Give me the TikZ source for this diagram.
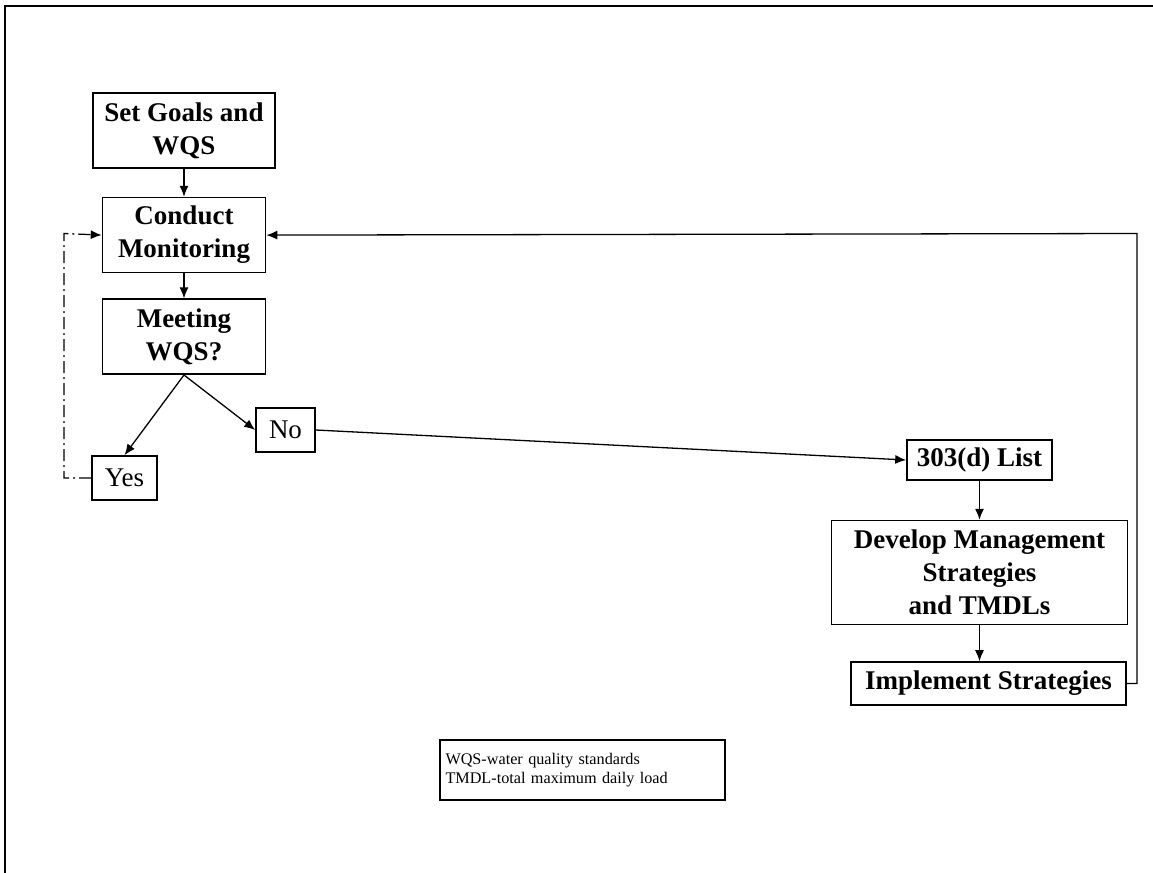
\documentclass[tikz,border=0pt]{standalone}
\usepackage{fontspec}
\setmainfont{Liberation Serif}
\usetikzlibrary{positioning,arrows.meta}

\begin{document}
\begin{tikzpicture}[x=0.5pt,y=-0.5pt,>={Latex[length=5.5pt,width=4.5pt]},
  stepbox/.style={draw,line width=0.8pt,align=center,inner sep=2pt,
    font=\fontsize{13.5}{16.5}\selectfont\bfseries},
  answer/.style={draw,line width=0.8pt,inner sep=2pt,minimum width=30pt,
    minimum height=22pt,font=\fontsize{13.5}{16.5}\selectfont},
  link/.style={->,line width=0.65pt},
  dashdot/.style={line width=0.65pt,dash pattern=on 6pt off 2pt on 1pt off 2pt}]
  \useasboundingbox (0,0) rectangle (1153,873);
  % page frame, cut at right and bottom
  \draw[line width=1.1pt] (5,880) -- (5,6) -- (1160,6);

  \node[stepbox,minimum width=91pt,minimum height=37.5pt] (goals) at (184,130.5) {Set Goals and\\WQS};
  \node[stepbox,minimum width=81.5pt,minimum height=37.5pt,below=14pt of goals] (monitor) {Conduct\\Monitoring};
  \node[stepbox,minimum width=81.5pt,minimum height=37.5pt,below=12.5pt of monitor] (meeting) {Meeting\\WQS?};
  \node[answer,minimum width=32.5pt] (yes) at (124.5,478) {Yes};
  \node[answer,minimum width=29.5pt] (no) at (285.5,430) {No};
  \node[stepbox,minimum width=72.5pt,minimum height=20pt] (list) at (979.5,460) {303(d) List};
  \node[stepbox,minimum width=148pt,minimum height=52pt,below=19.5pt of list] (develop) {Develop Management\\Strategies\\and TMDLs};
  \node[stepbox,minimum width=137.5pt,minimum height=21.5pt] (implement) at (988.5,683.5) {Implement Strategies};
  \node[draw,line width=0.65pt,align=left,text width=137pt,inner xsep=2.75pt,minimum height=30pt,
    font=\fontsize{8.1}{9.6}\selectfont] (legend) at (582.5,770)
    {WQS-water quality standards\\TMDL-total maximum daily load};

  \coordinate (back) at (1137,233.5);
  \coordinate (again) at (64,233.5);

  \draw[link] (goals) -- (monitor);
  \draw[link] (monitor) -- (meeting);
  \draw[link] (meeting.south) -- (yes.north);
  \draw[link] (meeting.south) -- (no.west);
  \draw[link] (no.east) -- (list.west);
  \draw[link] (list) -- (develop);
  \draw[link] (develop.south) -- (develop.south |- implement.north);
  \draw[link] (implement.east) -| (back) -- (monitor.east);
  \draw[dashdot,->] (yes.west) -| (again) -- (monitor.west);
\end{tikzpicture}
\end{document}
